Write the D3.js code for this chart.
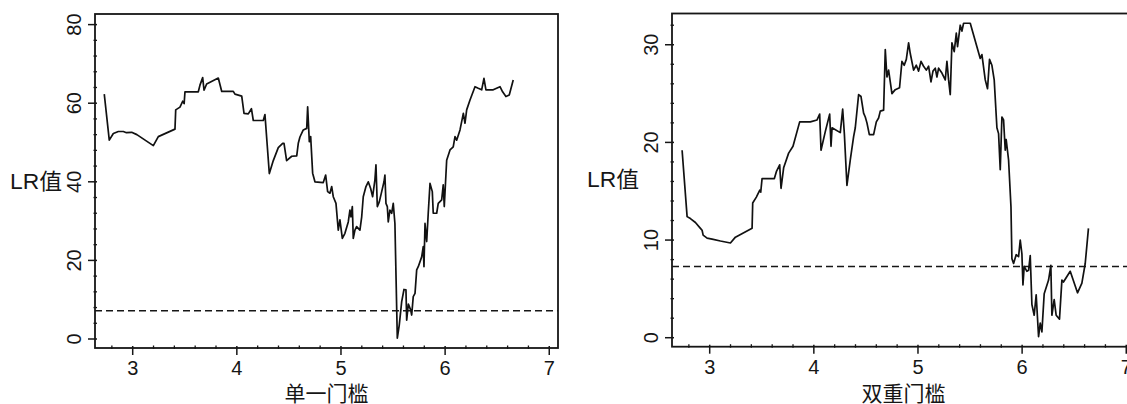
<!DOCTYPE html>
<html>
<head>
	<meta charset="utf-8">
	<title>门槛 LR 值图</title>
	<style>
		body { margin: 0; background: #fff; }
		svg { display: block; }
	</style>
</head>
<body>
	<svg width="1127" height="404"></svg>
<script src="https://cdn.jsdelivr.net/npm/d3@7"></script>
<script>
	//单一门槛：门槛值 与 LR 值
	const singleX = [2.727, 2.775, 2.814, 2.862, 2.91, 2.94, 2.99, 3.04, 3.198, 3.246, 3.406, 3.413, 3.454, 3.48, 3.494, 3.502,
		3.63, 3.646, 3.672, 3.685, 3.71, 3.822, 3.855, 3.966, 3.982, 4.047, 4.069, 4.11, 4.14, 4.158, 4.254, 4.27, 4.312, 4.35,
		4.398, 4.44, 4.453, 4.478, 4.527, 4.575, 4.59, 4.606, 4.638, 4.671, 4.68, 4.696, 4.709, 4.728, 4.75, 4.83, 4.853, 4.872,
		4.894, 4.911, 4.926, 4.952, 4.974, 4.99, 5.013, 5.038, 5.07, 5.086, 5.096, 5.109, 5.118, 5.134, 5.15, 5.182, 5.199, 5.214,
		5.24, 5.262, 5.285, 5.304, 5.326, 5.336, 5.349, 5.368, 5.391, 5.413, 5.422, 5.432, 5.445, 5.454, 5.47, 5.487, 5.502, 5.518,
		5.541, 5.56, 5.583, 5.605, 5.624, 5.631, 5.647, 5.669, 5.679, 5.694, 5.711, 5.727, 5.742, 5.775, 5.79, 5.797, 5.807, 5.823,
		5.838, 5.855, 5.877, 5.886, 5.919, 5.934, 5.967, 5.982, 5.992, 6.015, 6.047, 6.078, 6.095, 6.111, 6.143, 6.175, 6.191, 6.207,
		6.239, 6.287, 6.318, 6.351, 6.373, 6.392, 6.462, 6.527, 6.552, 6.584, 6.616, 6.654]
	const singleLR = [62.3, 50.6, 52.3, 52.8, 52.8, 52.5, 52.6, 52.0, 49.2, 51.5, 53.4, 58.3, 59.0, 60.5, 59.9, 62.9,
		62.9, 64.6, 66.5, 63.3, 64.9, 66.4, 63.0, 63.0, 62.3, 61.8, 57.4, 57.3, 58.6, 55.6, 55.6, 57.1, 42.1, 45.4,
		48.7, 49.8, 49.8, 45.4, 46.5, 46.6, 49.8, 51.4, 53.2, 53.6, 59.1, 50.2, 51.5, 42.2, 40.0, 39.8, 41.7, 37.5,
		37.1, 38.8, 36.2, 34.5, 27.7, 30.3, 25.6, 26.9, 29.8, 32.8, 31.1, 33.7, 25.6, 27.7, 28.6, 27.7, 31.1, 36.2,
		38.8, 40.0, 38.3, 36.2, 40.5, 44.3, 33.7, 34.9, 37.5, 40.0, 41.7, 34.5, 33.7, 29.8, 32.8, 32.0, 34.5, 29.4,
		0.2, 3.6, 9.5, 12.6, 12.5, 4.8, 8.9, 7.4, 6.1, 10.8, 11.6, 17.6, 18.4, 20.9, 23.5, 18.4, 29.4, 24.8,
		32.0, 39.6, 37.5, 32.0, 32.0, 34.5, 35.4, 39.2, 33.7, 45.5, 48.1, 48.9, 51.5, 50.6, 53.2, 57.4, 54.9, 58.3,
		60.8, 64.2, 63.8, 63.4, 66.3, 63.4, 63.4, 64.2, 62.9, 61.7, 62.1, 65.9]

	//双重门槛：门槛值 与 LR 值
	const doubleX = [2.735, 2.783, 2.815, 2.863, 2.911, 2.927, 2.937, 2.975, 3.023, 3.103, 3.199, 3.247, 3.407, 3.413, 3.448, 3.48,
		3.49, 3.503, 3.621, 3.64, 3.672, 3.685, 3.71, 3.758, 3.8, 3.864, 3.966, 4.031, 4.056, 4.069, 4.11, 4.152, 4.165, 4.175,
		4.254, 4.277, 4.293, 4.318, 4.35, 4.382, 4.398, 4.43, 4.453, 4.478, 4.494, 4.51, 4.533, 4.574, 4.6, 4.622, 4.638, 4.67,
		4.686, 4.702, 4.718, 4.734, 4.75, 4.782, 4.823, 4.846, 4.868, 4.888, 4.91, 4.926, 4.958, 4.984, 5.006, 5.029, 5.054, 5.08,
		5.102, 5.125, 5.144, 5.166, 5.182, 5.198, 5.23, 5.262, 5.278, 5.294, 5.31, 5.326, 5.348, 5.368, 5.38, 5.406, 5.422, 5.438,
		5.502, 5.598, 5.614, 5.646, 5.668, 5.687, 5.71, 5.732, 5.758, 5.774, 5.79, 5.806, 5.822, 5.838, 5.847, 5.87, 5.893, 5.902,
		5.918, 5.943, 5.966, 5.982, 5.998, 6.008, 6.02, 6.046, 6.062, 6.078, 6.094, 6.116, 6.135, 6.158, 6.174, 6.19, 6.212, 6.254,
		6.276, 6.286, 6.308, 6.327, 6.359, 6.382, 6.397, 6.462, 6.532, 6.574, 6.606, 6.637]
	const doubleLR = [19.2, 12.4, 12.2, 11.8, 11.2, 11.0, 10.5, 10.2, 10.1, 9.9, 9.7, 10.3, 11.2, 13.8, 14.4, 15.1,
		14.9, 16.3, 16.3, 17.0, 17.7, 15.3, 17.4, 18.9, 19.6, 22.1, 22.1, 22.3, 22.9, 19.2, 21.1, 22.9, 19.6, 21.5,
		21.0, 23.4, 20.9, 15.6, 18.2, 20.6, 21.5, 24.9, 24.7, 23.0, 22.6, 22.0, 20.8, 20.8, 22.1, 22.5, 23.2, 23.3,
		29.5, 26.7, 27.4, 26.2, 25.0, 25.4, 25.6, 28.3, 27.9, 28.5, 30.2, 29.1, 27.4, 27.9, 27.3, 28.3, 27.8, 27.4,
		27.8, 26.2, 27.3, 27.6, 26.7, 27.6, 27.1, 26.4, 28.3, 26.4, 24.9, 30.2, 29.3, 31.2, 29.8, 32.0, 31.4, 32.2,
		32.2, 28.6, 29.0, 26.4, 25.5, 28.5, 27.9, 26.4, 21.5, 20.9, 17.2, 22.6, 22.3, 19.2, 20.3, 18.2, 13.4, 8.1,
		7.6, 8.5, 8.3, 10.0, 8.6, 5.4, 7.3, 6.8, 6.9, 8.4, 3.4, 2.3, 4.4, 0.1, 1.5, 0.6, 4.5, 5.9,
		7.4, 2.3, 3.9, 2.3, 1.9, 5.9, 5.7, 6.8, 4.6, 5.6, 7.6, 11.2]

	//临界值（虚线）
	const criticalLR = [7.2, 7.3]
	//刻度
	const xTicks = [3, 4, 5, 6, 7]
	const singleYTicks = [0, 20, 40, 60, 80]
	const doubleYTicks = [0, 10, 20, 30]
	const xLabels = ["单一门槛", "双重门槛"]

	const svg = d3.select("svg")
	const numFont = "'Liberation Sans', Arial, sans-serif"
	const cjkFont = "'Noto Sans CJK SC', sans-serif"
	const ink = "#161616"

	//画一个面板
	function drawPanel(p) {
		let x = d3.scaleLinear().domain([2.638, 7.084]).range([p.left, p.left + 463])
		let y = d3.scaleLinear().domain(p.yDomain).range([p.bottom, p.top])
		let g = svg.append("g")

		//边框
		g.append("rect")
			.attr("x", p.left).attr("y", p.top)
			.attr("width", 463).attr("height", p.bottom - p.top)
			.attr("fill", "none").attr("stroke", ink).attr("stroke-width", 1.8)

		//x 轴刻度
		let xMinor = d3.range(2.8, 7.01, 0.2).filter(v => Math.abs(v - Math.round(v)) > 0.01)
		g.append("g").selectAll("line").data(xMinor).enter().append("line")
			.attr("x1", d => x(d)).attr("x2", d => x(d))
			.attr("y1", p.bottom - 2.5).attr("y2", p.bottom + 1)
			.attr("stroke", ink).attr("stroke-width", 1.3)
		g.append("g").selectAll("line").data(xTicks).enter().append("line")
			.attr("x1", d => x(d)).attr("x2", d => x(d))
			.attr("y1", p.bottom - 2).attr("y2", p.bottom + 7)
			.attr("stroke", ink).attr("stroke-width", 1.5)
		g.append("g").selectAll("text").data(xTicks).enter().append("text")
			.attr("x", d => x(d)).attr("y", p.bottom + 27)
			.attr("text-anchor", "middle")
			.attr("font-family", numFont).attr("font-size", 20)
			.attr("fill", ink)
			.text(d => d)

		//y 轴刻度
		let yMinor = d3.range(0, p.yDomain[1], p.minorStep).filter(v => !p.yTicks.includes(v))
		g.append("g").selectAll("line").data(yMinor).enter().append("line")
			.attr("x1", p.left - 1.5).attr("x2", p.left + 2)
			.attr("y1", d => y(d)).attr("y2", d => y(d))
			.attr("stroke", ink).attr("stroke-width", 1.3)
		g.append("g").selectAll("line").data(p.yTicks).enter().append("line")
			.attr("x1", p.left - 7).attr("x2", p.left + 2)
			.attr("y1", d => y(d)).attr("y2", d => y(d))
			.attr("stroke", ink).attr("stroke-width", 1.5)
		g.append("g").selectAll("text").data(p.yTicks).enter().append("text")
			.attr("transform", d => `translate(${p.left - 14}, ${y(d)}) rotate(-90)`)
			.attr("text-anchor", "middle")
			.attr("font-family", numFont).attr("font-size", 20)
			.attr("fill", ink)
			.text(d => d)

		//临界值虚线
		g.append("line")
			.attr("x1", p.left).attr("x2", p.left + 463)
			.attr("y1", y(p.critical)).attr("y2", y(p.critical))
			.attr("stroke", ink).attr("stroke-width", 1.6)
			.attr("stroke-dasharray", "7,4")

		//LR 曲线
		let pts = p.xs.map((v, i) => [v, p.ys[i]])
		let lineMkr = d3.line().x(d => x(d[0])).y(d => y(d[1]))
		g.append("path").datum(pts)
			.attr("fill", "none")
			.attr("stroke", "#111")
			.attr("stroke-width", 1.7)
			.attr("stroke-linejoin", "round")
			.attr("d", lineMkr)

		//轴标题
		let yl = g.append("text")
			.attr("x", p.left - 33).attr("y", p.yLabelY)
			.attr("text-anchor", "end")
			.attr("font-size", 22)
			.attr("fill", ink)
			.attr("textLength", 52).attr("lengthAdjust", "spacingAndGlyphs")
		yl.append("tspan").attr("font-family", numFont).text("LR")
		yl.append("tspan").attr("font-family", cjkFont).text("值")

		g.append("text")
			.attr("x", p.left + 231.5).attr("y", 392)
			.attr("text-anchor", "middle").attr("dominant-baseline", "central")
			.attr("font-family", cjkFont).attr("font-size", 21)
			.attr("fill", ink)
			.text(p.xLabel)
	}

	drawPanel({
		left: 95, top: 14, bottom: 348, yDomain: [-2.29, 82.7],
		yTicks: singleYTicks, minorStep: 4, critical: criticalLR[0],
		xs: singleX, ys: singleLR, xLabel: xLabels[0], yLabelY: 189
	})
	drawPanel({
		left: 672, top: 13.5, bottom: 346.7, yDomain: [-0.92, 33.2],
		yTicks: doubleYTicks, minorStep: 2, critical: criticalLR[1],
		xs: doubleX, ys: doubleLR, xLabel: xLabels[1], yLabelY: 187
	})
</script>
</body>
</html>
